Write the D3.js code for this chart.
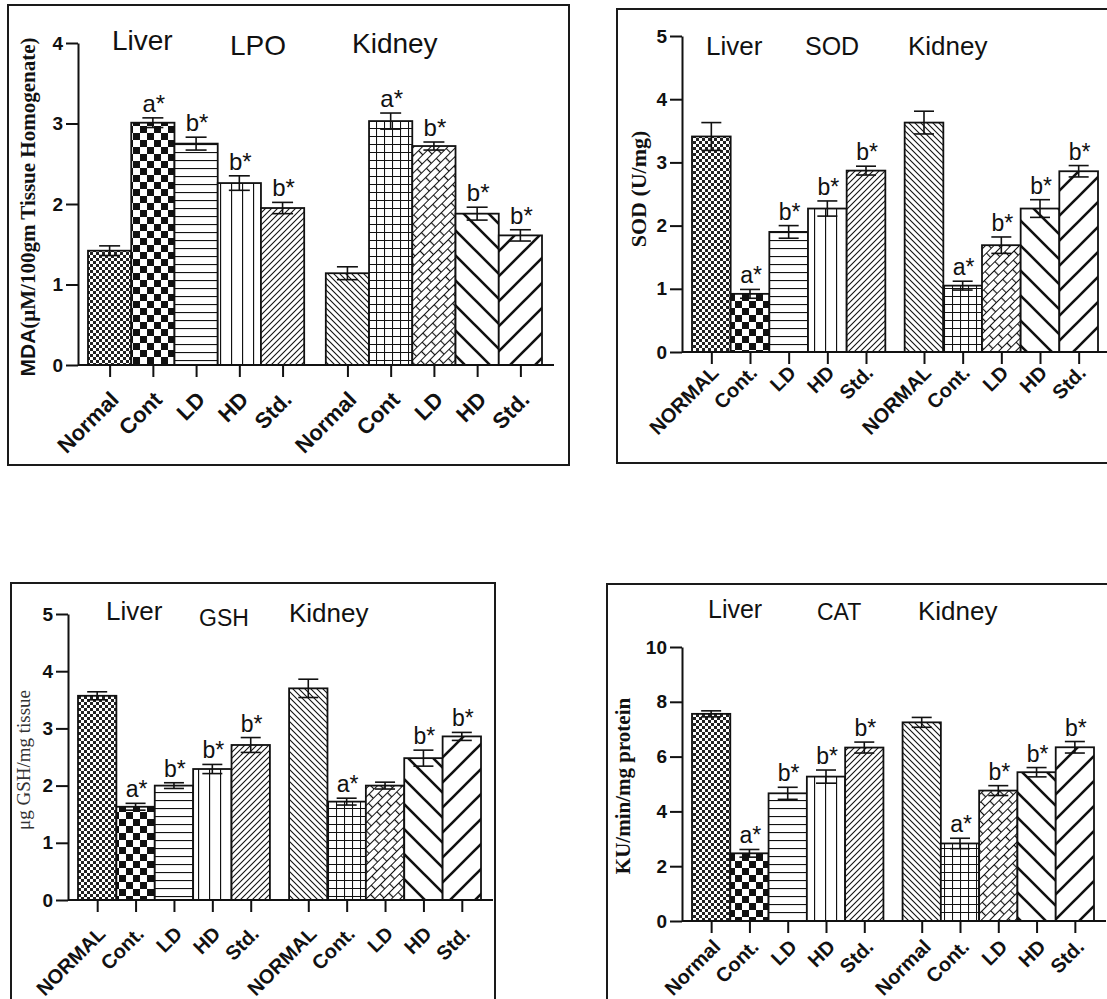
<!DOCTYPE html>
<html>
<head>
<meta charset="utf-8">
<script src="https://cdn.jsdelivr.net/npm/d3@7"></script>
<style>
  body { margin: 0; background: #fff; }
  svg { display: block; }
</style>
</head>
<body>
<div id="graph"></div>
<script>
// ---- data ----
var lpoLabels = ['Normal', 'Cont', 'LD', 'HD', 'Std.']
var sodLabels = ['NORMAL', 'Cont.', 'LD', 'HD', 'Std.']
var gshLabels = ['NORMAL', 'Cont.', 'LD', 'HD', 'Std.']
var catLabels = ['Normal', 'Cont.', 'LD', 'HD', 'Std.']

var lpoLiver = [1.42, 3.01, 2.75, 2.26, 1.95]
var lpoLiverErr = [0.06, 0.06, 0.08, 0.09, 0.07]
var lpoKidney = [1.14, 3.03, 2.72, 1.88, 1.61]
var lpoKidneyErr = [0.08, 0.10, 0.05, 0.08, 0.07]
var lpoLiverSig = ['', 'a*', 'b*', 'b*', 'b*']
var lpoKidneySig = ['', 'a*', 'b*', 'b*', 'b*']

var sodLiver = [3.41, 0.92, 1.90, 2.27, 2.87]
var sodLiverErr = [0.22, 0.07, 0.10, 0.12, 0.07]
var sodKidney = [3.63, 1.05, 1.69, 2.27, 2.86]
var sodKidneyErr = [0.18, 0.07, 0.13, 0.14, 0.09]
var sodLiverSig = ['', 'a*', 'b*', 'b*', 'b*']
var sodKidneySig = ['', 'a*', 'b*', 'b*', 'b*']

var gshLiver = [3.57, 1.63, 2.00, 2.29, 2.71]
var gshLiverErr = [0.07, 0.06, 0.05, 0.08, 0.13]
var gshKidney = [3.70, 1.72, 2.00, 2.48, 2.86]
var gshKidneyErr = [0.16, 0.06, 0.06, 0.14, 0.07]
var gshLiverSig = ['', 'a*', 'b*', 'b*', 'b*']
var gshKidneySig = ['', 'a*', '', 'b*', 'b*']

var catLiver = [7.56, 2.47, 4.66, 5.27, 6.33]
var catLiverErr = [0.11, 0.14, 0.22, 0.24, 0.20]
var catKidney = [7.25, 2.83, 4.76, 5.43, 6.34]
var catKidneyErr = [0.18, 0.19, 0.18, 0.17, 0.21]
var catLiverSig = ['', 'a*', 'b*', 'b*', 'b*']
var catKidneySig = ['', 'a*', 'b*', 'b*', 'b*']

var liverPats = ['fineCheck', 'bigCheck', 'hLines', 'vLines', 'fwdFine']
var kidneyPats = ['backFine', 'grid', 'brick', 'backThick', 'fwdThick']

var sans = "'Liberation Sans', Arial, sans-serif"
var serif = "'Liberation Serif', 'Times New Roman', serif"

var svg = d3.select('#graph').append('svg')
  .attr('width', 1107).attr('height', 999)

// ---- fill patterns ----
var defs = svg.append('defs')
function pat(id, w, h){
  return defs.append('pattern').attr('id', id)
    .attr('patternUnits', 'userSpaceOnUse')
    .attr('width', w).attr('height', h)
}
function bg(p, w, h){ p.append('rect').attr('width', w).attr('height', h).attr('fill', '#fff') }

var p = pat('fineCheck', 6, 6); bg(p, 6, 6)
p.append('path').attr('d', 'M0,0h3v3h-3z M3,3h3v3h-3z').attr('fill', '#222')

p = pat('bigCheck', 14, 14); bg(p, 14, 14)
p.append('path').attr('d', 'M0,0h7v7h-7z M7,7h7v7h-7z').attr('fill', '#111')

p = pat('hLines', 8, 8); bg(p, 8, 8)
p.append('path').attr('d', 'M0,0.5H8').attr('stroke', '#111').attr('stroke-width', 1.2)

p = pat('vLines', 11, 11); bg(p, 11, 11)
p.append('path').attr('d', 'M0.5,0V11').attr('stroke', '#111').attr('stroke-width', 1.3)

p = pat('fwdFine', 6, 6); bg(p, 6, 6)
p.append('path').attr('d', 'M-1,1l2,-2 M0,6l6,-6 M5,7l2,-2').attr('stroke', '#111').attr('stroke-width', 1.1)

p = pat('backFine', 6, 6); bg(p, 6, 6)
p.append('path').attr('d', 'M-1,5l2,2 M0,0l6,6 M5,-1l2,2').attr('stroke', '#111').attr('stroke-width', 1.1)

p = pat('grid', 8, 8); bg(p, 8, 8)
p.append('path').attr('d', 'M0,0.5H8 M0.5,0V8').attr('stroke', '#111').attr('stroke-width', 1.1)

p = pat('brick', 14, 12).attr('patternTransform', 'rotate(-45)'); bg(p, 14, 12)
p.append('path').attr('d', 'M0,0.5H14 M0,6.5H14 M0.5,0.5V6.5 M7.5,6.5V12.5')
  .attr('stroke', '#111').attr('stroke-width', 1.2)

p = pat('backThick', 25, 25); bg(p, 25, 25)
p.append('path').attr('d', 'M-3,22l6,6 M0,0l25,25 M22,-3l6,6').attr('stroke', '#111').attr('stroke-width', 2.6)

p = pat('fwdThick', 25, 25); bg(p, 25, 25)
p.append('path').attr('d', 'M-3,3l6,-6 M0,25l25,-25 M22,28l6,-6').attr('stroke', '#111').attr('stroke-width', 2.6)

// ---- panels ----
var panels = [
  {
    box: [8, 5, 569, 465], axisX: 78, y0: 365, yTop: 43, yMax: 4, yStep: 1,
    barLeft: 88, barRight: 542, capW: 21, sigSize: 24, labelOff: [10, 36], labelSize: 22,
    labels: lpoLabels, liver: lpoLiver, liverErr: lpoLiverErr, kidney: lpoKidney, kidneyErr: lpoKidneyErr,
    liverSig: lpoLiverSig, kidneySig: lpoKidneySig,
    titles: [['Liver', 112, 50, 28], ['LPO', 230, 55, 28], ['Kidney', 352, 53, 28]],
    yTitle: {x: 28, y: 207, size: 21, weight: 'bold', parts: [['MDA', sans], ['(μM/100gm Tissue Homogenate)', serif]]}
  },
  {
    box: [617, 9, 1120, 463], axisX: 682, y0: 352, yTop: 36, yMax: 5, yStep: 1,
    barLeft: 692, barRight: 1098, capW: 20, sigSize: 23, labelOff: [8, 22], labelSize: 20,
    labels: sodLabels, liver: sodLiver, liverErr: sodLiverErr, kidney: sodKidney, kidneyErr: sodKidneyErr,
    liverSig: sodLiverSig, kidneySig: sodKidneySig,
    titles: [['Liver', 706, 55, 26], ['SOD', 805, 55, 25], ['Kidney', 908, 55, 26]],
    yTitle: {x: 638, y: 189, size: 22, weight: 'bold', parts: [['SOD (U/mg)', serif]]}
  },
  {
    box: [11, 583, 495, 1020], axisX: 68, y0: 900, yTop: 614, yMax: 5, yStep: 1,
    barLeft: 78, barRight: 481, capW: 20, sigSize: 23, labelOff: [9, 35], labelSize: 20,
    labels: gshLabels, liver: gshLiver, liverErr: gshLiverErr, kidney: gshKidney, kidneyErr: gshKidneyErr,
    liverSig: gshLiverSig, kidneySig: gshKidneySig,
    titles: [['Liver', 106, 620, 26], ['GSH', 199, 626, 23], ['Kidney', 289, 622, 26]],
    yTitle: {x: 23, y: 760, size: 19, weight: 'normal', parts: [['μg GSH/mg tissue', serif]]}
  },
  {
    box: [607, 584, 1120, 1020], axisX: 682, y0: 921, yTop: 647, yMax: 10, yStep: 2,
    barLeft: 692, barRight: 1094, capW: 20, sigSize: 23, labelOff: [10, 27], labelSize: 20,
    labels: catLabels, liver: catLiver, liverErr: catLiverErr, kidney: catKidney, kidneyErr: catKidneyErr,
    liverSig: catLiverSig, kidneySig: catKidneySig,
    titles: [['Liver', 708, 618, 25], ['CAT', 817, 620, 23], ['Kidney', 918, 620, 26]],
    yTitle: {x: 623, y: 786, size: 21, weight: 'bold', parts: [['KU/min/mg protein', serif]]}
  }
]

panels.forEach(drawPanel)

function drawPanel(c){
  var g = svg.append('g')
  var [bx0, by0, bx1, by1] = c.box

  g.append('rect')
    .attr('x', bx0).attr('y', by0).attr('width', bx1 - bx0).attr('height', by1 - by0)
    .attr('fill', 'none').attr('stroke', '#1a1a1a').attr('stroke-width', 2)

  var y = d3.scaleLinear().domain([0, c.yMax]).range([c.y0, c.yTop])
  // 5 liver slots, half a slot gap, 5 kidney slots
  var x = d3.scaleLinear().domain([0, 10.5]).range([c.barLeft, c.barRight])
  var bw = x(1) - x(0)

  var bars = c.liver.map((v, i) => ({v, e: c.liverErr[i], sig: c.liverSig[i], slot: i, pat: liverPats[i], label: c.labels[i]}))
    .concat(c.kidney.map((v, i) => ({v, e: c.kidneyErr[i], sig: c.kidneySig[i], slot: 5.5 + i, pat: kidneyPats[i], label: c.labels[i]})))

  g.selectAll('rect.bar').data(bars).join('rect').attr('class', 'bar')
    .attr('x', d => x(d.slot)).attr('width', bw)
    .attr('y', d => y(d.v)).attr('height', d => y(0) - y(d.v))
    .attr('fill', d => `url(#${d.pat})`)
    .attr('stroke', '#111').attr('stroke-width', 1.8)

  // error bars (mean ± SEM)
  var eb = g.selectAll('g.err').data(bars).join('g').attr('class', 'err')
    .attr('stroke', '#111').attr('stroke-width', 1.6)
  var cx = d => x(d.slot + 0.5)
  eb.append('line').attr('x1', cx).attr('x2', cx)
    .attr('y1', d => y(d.v - d.e)).attr('y2', d => y(d.v + d.e))
  eb.append('line').attr('x1', d => cx(d) - c.capW/2).attr('x2', d => cx(d) + c.capW/2)
    .attr('y1', d => y(d.v + d.e)).attr('y2', d => y(d.v + d.e))
  eb.append('line').attr('x1', d => cx(d) - c.capW/2).attr('x2', d => cx(d) + c.capW/2)
    .attr('y1', d => y(d.v - d.e)).attr('y2', d => y(d.v - d.e))

  g.selectAll('text.sig').data(bars.filter(d => d.sig)).join('text').attr('class', 'sig')
    .attr('x', d => cx(d) + 1).attr('y', d => y(d.v + d.e) - 6)
    .attr('text-anchor', 'middle')
    .style('font-family', sans).style('font-size', c.sigSize + 'px').attr('fill', '#111')
    .text(d => d.sig)

  // y axis
  var ya = g.append('g').attr('transform', `translate(${c.axisX},0)`)
    .call(d3.axisLeft(y).tickValues(d3.range(0, c.yMax + 0.001, c.yStep))
      .tickSize(12).tickSizeOuter(0).tickPadding(3).tickFormat(d3.format('d')))
  ya.attr('font-size', null).attr('font-family', null)
  ya.selectAll('path, line').attr('stroke', '#111').attr('stroke-width', 2)
  ya.selectAll('text').attr('fill', '#111')
    .style('font-family', sans).style('font-size', '19px').style('font-weight', 'bold')

  // x axis baseline
  g.append('line')
    .attr('x1', c.axisX).attr('x2', c.barRight + 12)
    .attr('y1', c.y0).attr('y2', c.y0)
    .attr('stroke', '#111').attr('stroke-width', 2)

  var xa = g.append('g').attr('transform', `translate(0,${c.y0})`)
    .call(d3.axisBottom(x).tickValues(bars.map(d => d.slot + 0.5))
      .tickSize(12).tickFormat((d, i) => bars[i].label))
  xa.attr('font-size', null).attr('font-family', null)
  xa.select('.domain').remove()
  xa.selectAll('line').attr('stroke', '#111').attr('stroke-width', 2)
  xa.selectAll('text')
    .attr('y', 0).attr('dy', 0).attr('x', 0)
    .attr('transform', `translate(${c.labelOff[0]},${c.labelOff[1]}) rotate(-45)`)
    .attr('text-anchor', 'end').attr('fill', '#111')
    .style('font-family', sans).style('font-size', c.labelSize + 'px').style('font-weight', 'bold')

  // panel titles
  c.titles.forEach(([t, tx, ty, fs]) => {
    g.append('text').attr('x', tx).attr('y', ty)
      .style('font-family', sans).style('font-size', fs + 'px').attr('fill', '#111')
      .text(t)
  })

  // y axis title
  var yt = g.append('text')
    .attr('transform', `translate(${c.yTitle.x},${c.yTitle.y}) rotate(-90)`)
    .attr('text-anchor', 'middle').attr('dy', '0.35em')
    .style('font-size', c.yTitle.size + 'px').style('font-weight', c.yTitle.weight)
    .attr('fill', c.yTitle.weight == 'bold' ? '#111' : '#333')
  c.yTitle.parts.forEach(([t, f]) => yt.append('tspan').style('font-family', f).text(t))
}
</script>
</body>
</html>
